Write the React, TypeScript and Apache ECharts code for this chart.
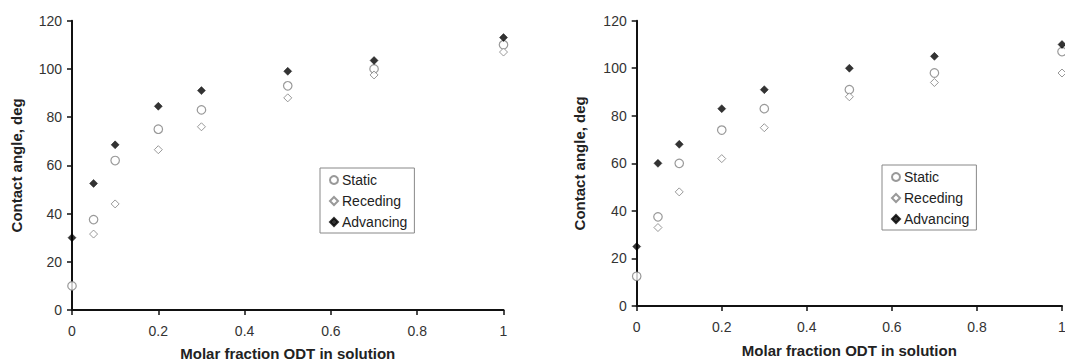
import React, { useEffect, useRef } from "react";
import * as echarts from "echarts";

const xValues = [0, 0.05, 0.1, 0.2, 0.3, 0.5, 0.7, 1];
const seriesNames = ["Static", "Receding", "Advancing"];

const staticA = [10, 37.5, 62, 75, 83, 93, 100, 110];
const recedingA = [null, 31.5, 44, 66.5, 76, 88, 97.5, 107];
const advancingA = [30, 52.5, 68.5, 84.5, 91, 99, 103.5, 113];

const staticB = [12.5, 37.5, 60, 74, 83, 91, 98, 107];
const recedingB = [null, 33, 48, 62, 75, 88, 94, 98];
const advancingB = [25, 60, 68, 83, 91, 100, 105, 110];

const xTitle = "Molar fraction ODT in solution";
const yTitle = "Contact angle, deg";

const pairs = (ys: (number | null)[]) =>
  xValues.map((x, i) => [x, ys[i]]).filter((p) => p[1] !== null);

const FONT = "'Liberation Sans', Arial, sans-serif";
const GRAY = "#7f7f7f";

function makeSeries(idx: number, data: (number | null)[][]) {
  return [
    {
      name: "Static",
      type: "scatter",
      xAxisIndex: idx,
      yAxisIndex: idx,
      symbol: "circle",
      symbolSize: 8.5,
      clip: false,
      itemStyle: { color: "#fff", borderColor: GRAY, borderWidth: 1.2 },
      data: pairs(data[0]),
    },
    {
      name: "Receding",
      type: "scatter",
      xAxisIndex: idx,
      yAxisIndex: idx,
      symbol: "diamond",
      symbolSize: 8,
      clip: false,
      itemStyle: { color: "#fff", borderColor: GRAY, borderWidth: 1 },
      data: pairs(data[1]),
    },
    {
      name: "Advancing",
      type: "scatter",
      xAxisIndex: idx,
      yAxisIndex: idx,
      symbol: "diamond",
      symbolSize: 8,
      clip: false,
      itemStyle: { color: "#000", borderColor: "#000", borderWidth: 0.5 },
      data: pairs(data[2]),
    },
  ];
}

function xAxis(idx: number, gap: number) {
  return {
    type: "value",
    gridIndex: idx,
    min: 0,
    max: 1,
    interval: 0.2,
    name: xTitle,
    nameLocation: "middle",
    nameGap: gap,
    nameTextStyle: { fontFamily: FONT, fontSize: 15, fontWeight: "bold", color: "#222" },
    axisLine: { show: true, lineStyle: { color: "#111", width: 2 } },
    axisTick: { show: true, length: 5, lineStyle: { color: "#111", width: 1.5 } },
    axisLabel: { fontFamily: FONT, fontSize: 14, color: "#333", margin: 14 },
    splitLine: { show: false },
  };
}

function yAxis(idx: number, gap: number) {
  return {
    type: "value",
    gridIndex: idx,
    min: 0,
    max: 120,
    interval: 20,
    name: yTitle,
    nameLocation: "middle",
    nameRotate: 90,
    nameGap: gap,
    nameTextStyle: { fontFamily: FONT, fontSize: 15, fontWeight: "bold", color: "#222" },
    axisLine: { show: true, lineStyle: { color: "#111", width: 2 } },
    axisTick: { show: true, length: 5, lineStyle: { color: "#111", width: 1.5 } },
    axisLabel: { fontFamily: FONT, fontSize: 14, color: "#333", margin: 10 },
    splitLine: { show: false },
  };
}

function legend(left: number, top: number) {
  return {
    orient: "vertical",
    left,
    top,
    data: seriesNames,
    itemWidth: 8,
    itemHeight: 8,
    itemGap: 5,
    padding: [4, 7, 3, 9],
    borderColor: "#888",
    borderWidth: 1,
    backgroundColor: "#fff",
    selectedMode: false,
    textStyle: { fontFamily: FONT, fontSize: 14, color: "#222", lineHeight: 16, padding: [0, 0, 0, -1] },
  };
}

export default function App() {
  const ref = useRef<HTMLDivElement>(null);
  useEffect(() => {
    document.body.style.margin = "0";
    const chart = echarts.init(ref.current!, null, { renderer: "svg" });
    chart.setOption({
      animation: false,
      backgroundColor: "#fff",
      grid: [
        { left: 72, right: 561.5, top: 20.7, bottom: 52, containLabel: false, outerBoundsMode: "none" },
        { left: 636.7, right: 3, top: 20.7, bottom: 56, containLabel: false, outerBoundsMode: "none" },
      ],
      xAxis: [xAxis(0, 36), xAxis(1, 37)],
      yAxis: [yAxis(0, 48), yAxis(1, 50)],
      legend: [legend(320, 168), legend(882, 165)],
      series: [
        ...makeSeries(0, [staticA, recedingA, advancingA]),
        ...makeSeries(1, [staticB, recedingB, advancingB]),
      ],
    });
    return () => chart.dispose();
  }, []);
  return (
    <div
      ref={ref}
      style={{ position: "absolute", left: 0, top: 0, width: 1065, height: 362 }}
    />
  );
}
